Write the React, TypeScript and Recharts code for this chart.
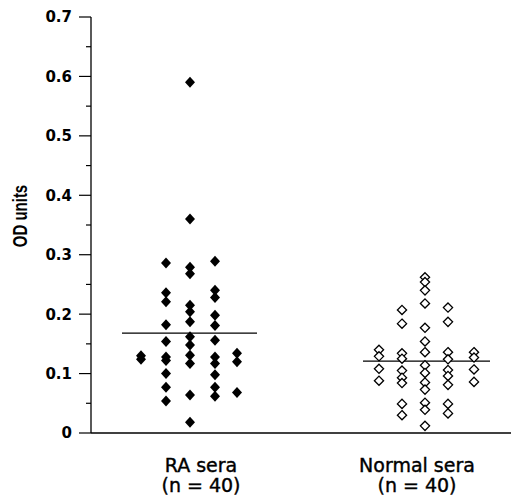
import { ScatterChart, Scatter, XAxis, YAxis, ReferenceLine } from 'recharts';

const groups = ['RA sera', 'Normal sera'];
const groupN = [40, 40];
const groupMeans = [0.168, 0.121];

// OD readings, one array per jitter column (left to right)
const raSera = [
  [0.13, 0.124],
  [0.286, 0.236, 0.221, 0.182, 0.154, 0.128, 0.122, 0.1, 0.077, 0.054],
  [0.59, 0.36, 0.279, 0.268, 0.215, 0.204, 0.187, 0.162, 0.148, 0.131, 0.117, 0.064, 0.018],
  [0.289, 0.24, 0.228, 0.198, 0.181, 0.156, 0.128, 0.117, 0.098, 0.077, 0.062],
  [0.134, 0.12, 0.068],
];
const normalSera = [
  [0.14, 0.129, 0.108, 0.088],
  [0.207, 0.184, 0.134, 0.125, 0.105, 0.093, 0.084, 0.049, 0.03],
  [0.262, 0.254, 0.24, 0.218, 0.177, 0.154, 0.136, 0.114, 0.101, 0.085, 0.073, 0.051, 0.039, 0.012],
  [0.211, 0.187, 0.136, 0.124, 0.106, 0.096, 0.081, 0.049, 0.033],
  [0.136, 0.127, 0.107, 0.086],
];

const yTicks = [0, 0.05, 0.1, 0.15, 0.2, 0.25, 0.3, 0.35, 0.4, 0.45, 0.5, 0.55, 0.6, 0.65, 0.7];

// x placement on a 0..16.8 scale
const raColX = [2.0, 3.0, 3.96, 4.96, 5.84];
const normalColX = [11.52, 12.44, 13.36, 14.28, 15.32];
const labelX = [4.4, 13.04];
const meanSpan = [[1.24, 6.64], [10.88, 15.96]];

const toPoints = (cols: number[][], xs: number[]) =>
  cols.flatMap((col, i) => col.map((od) => ({ x: xs[i], od })));

const raData = toPoints(raSera, raColX);
const normalData = toPoints(normalSera, normalColX);

const FilledDiamond = (props: any) => {
  const { cx, cy } = props;
  return <polygon points={`${cx},${cy - 5.5} ${cx + 5},${cy} ${cx},${cy + 5.5} ${cx - 5},${cy}`} fill="#000" />;
};

const OpenDiamond = (props: any) => {
  const { cx, cy } = props;
  return (
    <polygon
      points={`${cx},${cy - 4.6} ${cx + 4.6},${cy} ${cx},${cy + 4.6} ${cx - 4.6},${cy}`}
      fill="#fff"
      stroke="#000"
      strokeWidth={1.3}
    />
  );
};

const YTick = (props: any) => {
  const { x, y, payload, index } = props;
  const v = payload.value;
  const major = Math.round(v * 100) % 10 === 0;
  return (
    <g>
      <line x1={x - (major ? 12 : 5)} x2={x} y1={y} y2={y} stroke="#000" strokeWidth={1.2} />
      {major && (
        <text
          x={x - 19}
          y={y}
          dy="0.36em"
          textAnchor="end"
          style={{ fontFamily: 'DejaVu Sans', fontWeight: 'bold', fontSize: 15 }}
          fill="#000"
        >
          {v === 0 ? '0' : v.toFixed(1)}
        </text>
      )}
      {index === 0 && (
        <text
          x={0}
          y={0}
          transform="translate(20, 216) scale(1.3, 1) rotate(-90)"
          textAnchor="middle"
          dy="0.36em"
          style={{ fontFamily: 'Liberation Sans', fontWeight: 'bold', fontSize: 15 }}
          fill="#000"
        >
          OD units
        </text>
      )}
    </g>
  );
};

const XTick = (props: any) => {
  const { x, y, index } = props;
  return (
    <text
      x={x}
      textAnchor="middle"
      style={{ fontFamily: 'DejaVu Sans', fontSize: 19 }}
      fill="#000"
      stroke="#000"
      strokeWidth={0.4}
    >
      <tspan x={x} y={y + 39}>{groups[index]}</tspan>
      <tspan x={x} y={y + 59}>{`(n = ${groupN[index]})`}</tspan>
    </text>
  );
};

export default function App() {
  return (
    <div style={{ position: 'absolute', left: 0, top: 0, background: '#fff' }}>
      <ScatterChart width={513} height={495} margin={{ top: 17, right: 2, bottom: 0, left: 0 }}>
        <XAxis
          type="number"
          dataKey="x"
          domain={[0, 16.8]}
          ticks={labelX}
          tick={<XTick />}
          tickLine={false}
          tickSize={0}
          tickMargin={0}
          height={62}
          axisLine={{ stroke: '#000', strokeWidth: 1.3 }}
          interval={0}
        />
        <YAxis
          type="number"
          dataKey="od"
          domain={[0, 0.7]}
          ticks={yTicks}
          tick={<YTick />}
          tickLine={false}
          tickSize={0}
          tickMargin={0}
          width={91}
          interval={0}
          axisLine={{ stroke: '#000', strokeWidth: 1.3 }}
        />
        <ReferenceLine
          segment={[{ x: meanSpan[0][0], y: groupMeans[0] }, { x: meanSpan[0][1], y: groupMeans[0] }]}
          stroke="#000"
          strokeWidth={1.3}
        />
        <ReferenceLine
          segment={[{ x: meanSpan[1][0], y: groupMeans[1] }, { x: meanSpan[1][1], y: groupMeans[1] }]}
          stroke="#000"
          strokeWidth={1.3}
        />
        <Scatter data={raData} shape={<FilledDiamond />} isAnimationActive={false} />
        <Scatter data={normalData} shape={<OpenDiamond />} isAnimationActive={false} />
      </ScatterChart>
    </div>
  );
}
